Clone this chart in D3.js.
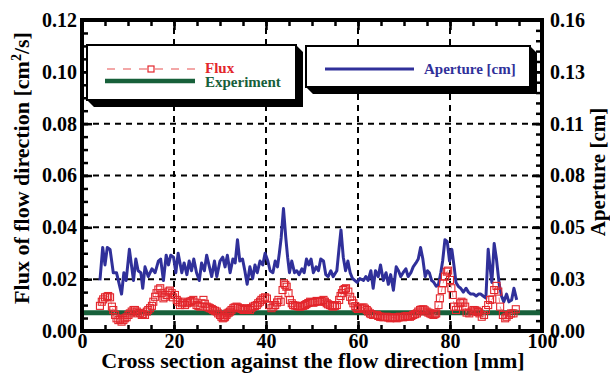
<!DOCTYPE html>
<html>
<head>
<meta charset="utf-8">
<script src="https://cdn.jsdelivr.net/npm/d3@7"></script>
<style>
body { margin: 0; background: #fff; }
text { font-family: "Liberation Serif", "Times New Roman", serif; font-weight: bold; }
</style>
</head>
<body>
<svg id="chart" width="610" height="374"></svg>
<script>
// values
var apertureX = [3.9,4.5,5.0,5.5,6.1,6.8,7.5,8.6,9.1,9.6,10.3,10.8,11.2,11.7,12.2,12.8,13.2,13.7,14.4,15.2,15.9,16.6,17.1,17.7,18.3,18.8,19.3,19.9,20.4,20.9,21.7,22.2,22.8,23.3,23.8,24.3,24.9,25.5,26.0,26.6,27.1,27.7,28.2,28.8,29.3,30.0,30.6,31.1,31.6,32.2,32.8,33.3,33.8,34.3,34.9,35.4,35.9,36.5,37.1,37.6,38.1,38.7,39.3,39.8,40.4,40.9,41.5,42.0,42.5,42.9,43.3,43.8,44.3,44.7,45.1,45.6,46.2,46.7,47.2,47.8,48.3,48.8,49.3,49.8,50.3,50.9,51.4,51.9,52.5,53.0,53.5,54.1,54.6,55.4,55.9,56.3,56.8,57.3,57.8,58.3,58.8,59.3,59.8,60.4,61.2,61.7,62.2,62.8,63.3,63.8,64.4,64.9,65.5,66.1,66.6,67.1,67.7,68.3,68.8,69.3,69.8,70.4,70.9,71.5,72.0,72.6,73.1,73.6,74.1,74.6,75.1,75.5,76.0,76.5,77.0,77.5,78.0,78.4,78.9,79.4,79.9,80.4,80.9,81.3,81.8,82.3,82.9,83.5,84.0,84.5,85.1,85.7,86.2,86.7,87.2,87.8,88.3,88.7,89.1,89.6,90.1,90.7,91.2,91.7,92.3,92.8,93.4,93.9,94.5];
var apertureY = [.026,.043,.034,.043,.042,.030,.030,.019,.030,.026,.042,.033,.026,.037,.031,.030,.022,.033,.028,.032,.030,.036,.037,.026,.039,.034,.039,.038,.030,.040,.030,.035,.029,.036,.031,.037,.030,.026,.035,.031,.039,.033,.028,.036,.028,.036,.038,.033,.039,.030,.037,.035,.047,.036,.037,.031,.024,.033,.027,.034,.030,.036,.034,.040,.036,.031,.030,.036,.033,.040,.048,.063,.048,.038,.030,.036,.030,.031,.029,.032,.030,.037,.034,.037,.030,.033,.031,.037,.036,.029,.028,.031,.028,.031,.043,.052,.038,.031,.036,.030,.027,.026,.025,.027,.026,.028,.026,.031,.022,.031,.028,.034,.026,.030,.024,.029,.021,.033,.031,.028,.030,.032,.028,.030,.033,.035,.037,.043,.037,.028,.031,.030,.026,.025,.023,.024,.030,.036,.047,.046,.036,.042,.033,.025,.023,.022,.020,.022,.020,.019,.019,.018,.019,.019,.018,.017,.042,.033,.025,.045,.037,.024,.018,.015,.019,.015,.016,.022,.016];

var fluxX = [3.9,4.3,4.6,5.0,5.4,5.7,6.1,6.5,6.8,7.2,7.5,7.9,8.3,8.6,9.0,9.3,9.7,10.1,10.4,10.8,11.2,11.5,11.9,12.2,12.6,13.0,13.3,13.7,14.1,14.4,14.8,15.2,15.5,15.9,16.2,16.6,17.0,17.3,17.7,18.0,18.4,18.8,19.1,19.5,19.8,20.2,20.6,20.9,21.3,21.7,22.0,22.4,22.8,23.1,23.5,23.8,24.2,24.5,24.9,25.3,25.7,26.0,26.4,26.7,27.1,27.5,27.8,28.2,28.5,28.9,29.3,29.6,30.0,30.3,30.6,30.9,31.1,31.4,31.6,31.9,32.2,32.5,32.9,33.2,33.6,33.9,34.3,34.7,35.1,35.4,35.8,36.1,36.5,36.8,37.2,37.6,38.0,38.3,38.7,39.0,39.4,39.8,40.2,40.7,41.2,41.6,42.0,42.4,42.7,43.2,43.6,43.9,44.2,44.5,44.9,45.2,45.6,45.9,46.3,46.7,47.0,47.4,47.7,48.1,48.5,48.8,49.2,49.6,49.9,50.3,50.6,51.0,51.4,51.7,52.1,52.5,52.8,53.2,53.5,53.9,54.3,54.6,55.0,55.4,55.9,56.2,56.5,56.8,57.1,57.4,57.9,58.3,58.7,59.0,59.4,59.7,60.0,60.4,60.8,61.2,61.5,61.9,62.2,62.6,62.9,63.3,63.7,64.1,64.4,64.8,65.1,65.5,65.9,66.2,66.6,67.0,67.3,67.7,68.0,68.4,68.8,69.1,69.5,69.8,70.2,70.6,70.9,71.3,71.6,72.0,72.4,72.8,73.1,73.5,73.8,74.2,74.5,74.9,75.3,75.7,76.0,76.4,76.7,77.0,77.5,77.8,78.2,78.5,78.9,79.3,79.6,80.0,80.3,80.6,80.9,81.3,81.8,82.2,82.5,82.9,83.3,83.6,84.2,84.7,85.1,85.4,85.8,86.1,86.4,86.9,87.4,87.8,88.3,88.7,89.2,89.6,90.1,90.5,90.9,91.5,92.0,92.3,92.8,93.3,93.8,94.3];
var fluxY = [.0097,.0113,.0122,.0130,.0132,.0135,.0130,.0094,.0081,.0062,.0049,.0042,.0045,.0036,.0042,.0049,.0053,.0062,.0068,.0075,.0081,.0081,.0075,.0068,.0070,.0062,.0066,.0062,.0075,.0081,.0088,.0097,.0113,.0132,.0146,.0160,.0165,.0146,.0126,.0132,.0139,.0152,.0156,.0146,.0130,.0139,.0120,.0113,.0100,.0107,.0113,.0100,.0107,.0110,.0113,.0116,.0120,.0110,.0100,.0097,.0094,.0107,.0120,.0105,.0094,.0091,.0088,.0085,.0081,.0078,.0075,.0068,.0062,.0055,.0049,.0052,.0055,.0062,.0068,.0071,.0075,.0081,.0088,.0091,.0094,.0091,.0088,.0085,.0081,.0085,.0088,.0085,.0081,.0088,.0094,.0097,.0100,.0107,.0113,.0120,.0126,.0130,.0125,.0100,.0088,.0094,.0100,.0110,.0120,.0113,.0158,.0184,.0178,.0171,.0146,.0120,.0107,.0100,.0098,.0097,.0095,.0094,.0096,.0097,.0100,.0104,.0108,.0113,.0111,.0109,.0112,.0116,.0114,.0113,.0116,.0120,.0113,.0107,.0103,.0100,.0097,.0094,.0097,.0100,.0120,.0135,.0146,.0158,.0162,.0165,.0152,.0132,.0118,.0107,.0096,.0088,.0085,.0088,.0090,.0091,.0086,.0081,.0075,.0068,.0065,.0062,.0062,.0062,.0058,.0055,.0054,.0053,.0054,.0055,.0052,.0049,.0051,.0053,.0051,.0049,.0052,.0055,.0054,.0053,.0056,.0058,.0056,.0055,.0058,.0062,.0065,.0068,.0075,.0081,.0083,.0084,.0080,.0075,.0071,.0068,.0065,.0062,.0065,.0068,.0100,.0126,.0158,.0184,.0210,.0229,.0233,.0197,.0165,.0139,.0094,.0081,.0094,.0107,.0113,.0109,.0094,.0071,.0068,.0075,.0081,.0080,.0078,.0073,.0068,.0055,.0062,.0081,.0100,.0120,.0122,.0158,.0174,.0152,.0094,.0062,.0049,.0055,.0062,.0068,.0068,.0084];

var experimentValue = 0.007;

var xTicks = [0, 20, 40, 60, 80, 100];
var leftTicks = [0, 0.02, 0.04, 0.06, 0.08, 0.10, 0.12];
var rightTicks = [0, 0.16 / 6, 0.32 / 6, 0.08, 0.64 / 6, 0.8 / 6, 0.16];
var rightLabels = ["0.00", "0.03", "0.05", "0.08", "0.11", "0.13", "0.16"];
var gridX = [20, 40, 60, 80];
var gridY = [0.02, 0.04, 0.06, 0.08];

var svg = d3.select("#chart");
var pLeft = 82, pRight = 542, pTop = 20, pBottom = 331;

var x = d3.scaleLinear().domain([0, 100]).range([pLeft, pRight]);
var y = d3.scaleLinear().domain([0, 0.12]).range([pBottom, pTop]);
var y2 = d3.scaleLinear().domain([0, 0.16]).range([pBottom, pTop]);

var g = svg.append("g");

// dashed grid
g.selectAll(".gx").data(gridX).enter().append("line")
    .attr("x1", function(d) { return x(d); }).attr("x2", function(d) { return x(d); })
    .attr("y1", pBottom).attr("y2", pTop)
    .attr("stroke", "#000").attr("stroke-width", 2).attr("stroke-dasharray", "6,5");
g.selectAll(".gy").data(gridY).enter().append("line")
    .attr("x1", pLeft).attr("x2", pRight)
    .attr("y1", function(d) { return y(d); }).attr("y2", function(d) { return y(d); })
    .attr("stroke", "#000").attr("stroke-width", 2).attr("stroke-dasharray", "6,5");

// inward ticks on all four sides
function ticks(axis, transform) {
    var a = g.append("g").attr("transform", transform).call(axis);
    a.select(".domain").remove();
    a.selectAll("line").attr("stroke", "#000").attr("stroke-width", 2.5);
    return a;
}
var xMinor = d3.range(0, 101, 5);
var yMinor = d3.range(0, 0.1201, 0.005);
var y2Minor = d3.range(0, 31).map(function(i) { return i * 0.16 / 30; });

ticks(d3.axisBottom(x).tickValues(xMinor).tickSize(-6).tickFormat(""), "translate(0," + pBottom + ")");
ticks(d3.axisBottom(x).tickValues(xTicks).tickSize(-10).tickFormat(""), "translate(0," + pBottom + ")");
ticks(d3.axisTop(x).tickValues(xMinor).tickSize(-6).tickFormat(""), "translate(0," + pTop + ")");
ticks(d3.axisTop(x).tickValues(xTicks).tickSize(-10).tickFormat(""), "translate(0," + pTop + ")");
ticks(d3.axisLeft(y).tickValues(yMinor).tickSize(-6).tickFormat(""), "translate(" + pLeft + ",0)");
ticks(d3.axisLeft(y).tickValues(leftTicks).tickSize(-10).tickFormat(""), "translate(" + pLeft + ",0)");
ticks(d3.axisRight(y2).tickValues(y2Minor).tickSize(-6).tickFormat(""), "translate(" + pRight + ",0)");
ticks(d3.axisRight(y2).tickValues(rightTicks).tickSize(-10).tickFormat(""), "translate(" + pRight + ",0)");

// tick labels
function labels(axis, transform) {
    var a = g.append("g").attr("transform", transform).call(axis);
    a.select(".domain").remove();
    a.selectAll("line").remove();
    a.selectAll("text").attr("font-size", 20).attr("fill", "#000");
    return a;
}
labels(d3.axisBottom(x).tickValues(xTicks).tickSize(0).tickPadding(3).tickFormat(d3.format("d")), "translate(0," + pBottom + ")");
labels(d3.axisLeft(y).tickValues(leftTicks).tickSize(0).tickPadding(5).tickFormat(d3.format(".2f")), "translate(" + pLeft + ",0)");
labels(d3.axisRight(y2).tickValues(rightTicks).tickSize(0).tickPadding(8)
    .tickFormat(function(d, i) { return rightLabels[i]; }), "translate(" + pRight + ",0)");

// experiment line
g.append("line")
    .attr("x1", x(0)).attr("x2", x(100))
    .attr("y1", y(experimentValue)).attr("y2", y(experimentValue))
    .attr("stroke", "#17603a").attr("stroke-width", 5);

// aperture line
var aperture = apertureX.map(function(d, i) { return [d, apertureY[i]]; });
g.append("path")
    .datum(aperture)
    .attr("fill", "none").attr("stroke", "#30309a").attr("stroke-width", 3)
    .attr("stroke-linejoin", "round")
    .attr("d", d3.line().x(function(d) { return x(d[0]); }).y(function(d) { return y2(d[1]); }));

// flux dashed line + square markers
var flux = fluxX.map(function(d, i) { return [d, fluxY[i]]; });
g.append("path")
    .datum(flux)
    .attr("fill", "none").attr("stroke", "#f08a8a").attr("stroke-width", 1).attr("stroke-dasharray", "5,4")
    .attr("d", d3.line().x(function(d) { return x(d[0]); }).y(function(d) { return y(d[1]); }));
g.selectAll(".sq").data(flux).enter().append("rect")
    .attr("x", function(d) { return x(d[0]) - 3.5; })
    .attr("y", function(d) { return y(d[1]) - 3.5; })
    .attr("width", 7).attr("height", 7)
    .attr("fill", "none").attr("stroke", "#e3262c").attr("stroke-width", 1.1);

// frame
g.append("rect")
    .attr("x", pLeft).attr("y", pTop).attr("width", pRight - pLeft).attr("height", pBottom - pTop)
    .attr("fill", "none").attr("stroke", "#000").attr("stroke-width", 4);

// legend boxes with 3D shadow
function box(x0, y0, x1, y1) {
    var d = 7;
    g.append("polygon")
        .attr("points", [[x1, y0], [x1 + d, y0 + d], [x1 + d, y1 + d], [x0 + d, y1 + d], [x0, y1], [x1, y1]].join(" "))
        .attr("fill", "#000");
    g.append("rect").attr("x", x0).attr("y", y0).attr("width", x1 - x0).attr("height", y1 - y0)
        .attr("fill", "#fff").attr("stroke", "#000").attr("stroke-width", 2);
}
box(87, 45, 296, 100);
box(306, 46, 530, 87);

g.append("line").attr("x1", 107).attr("x2", 195).attr("y1", 69).attr("y2", 69)
    .attr("stroke", "#f08a8a").attr("stroke-width", 1.5).attr("stroke-dasharray", "8,8");
g.append("rect").attr("x", 148).attr("y", 66).attr("width", 6).attr("height", 6)
    .attr("fill", "#fff").attr("stroke", "#e3262c").attr("stroke-width", 1.2);
g.append("text").attr("x", 205).attr("y", 73).attr("font-size", 15).attr("fill", "#e3262c").text("Flux");
g.append("line").attr("x1", 105).attr("x2", 195).attr("y1", 81).attr("y2", 81)
    .attr("stroke", "#17603a").attr("stroke-width", 4.5);
g.append("text").attr("x", 205).attr("y", 87).attr("font-size", 15).attr("fill", "#17603a").text("Experiment");

g.append("line").attr("x1", 325).attr("x2", 414).attr("y1", 69).attr("y2", 69)
    .attr("stroke", "#30309a").attr("stroke-width", 3);
g.append("text").attr("x", 424).attr("y", 74).attr("font-size", 15).attr("fill", "#30309a").text("Aperture [cm]");

// axis titles
svg.append("text").attr("x", 313).attr("y", 368).attr("text-anchor", "middle").attr("font-size", 22)
    .text("Cross section against the flow direction [mm]");

var lt = svg.append("text").attr("transform", "translate(29,168) rotate(-90)")
    .attr("text-anchor", "middle").attr("font-size", 22);
lt.append("tspan").text("Flux of flow direction [cm");
lt.append("tspan").attr("dy", -8).attr("font-size", 14).text("2");
lt.append("tspan").attr("dy", 8).text("/s]");

svg.append("text").attr("transform", "translate(605,172) rotate(-90)")
    .attr("text-anchor", "middle").attr("font-size", 21).text("Aperture [cm]");
</script>
</body>
</html>
